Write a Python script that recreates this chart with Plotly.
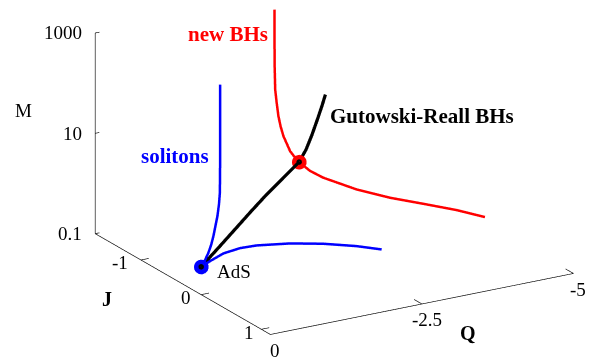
import numpy as np
import plotly.graph_objects as go

# ── Data ─────────────────────────────────────────────────────────────────────

# AdS point
ads_Q = [0.0]
ads_J = [0.0]
ads_M = [0.36]

# Gutowski-Reall black holes, from AdS upwards
gr_Q = [0.0, -0.304, -0.607, -0.927, -1.249, -1.581, -1.914,
        -2.059, -2.188, -2.326, -2.422, -2.497]
gr_J = [0.0, -0.04, -0.08, -0.12, -0.17, -0.23, -0.30,
        -0.33, -0.36, -0.40, -0.43, -0.45]
gr_M = [0.36, 0.637, 1.14, 2.14, 3.76, 6.06, 9.37,
        14.6, 25.8, 48.8, 76.4, 117.5]

# point where the new black holes meet the Gutowski-Reall branch
merge_Q = [-1.914]
merge_J = [-0.30]
merge_M = [9.37]

# new black holes, from the top down through the merger point
nbh_Q = [-2.699, -2.501, -2.305, -2.115, -2.040, -1.970, -1.927, -1.904,
         -1.885, -1.899, -1.914,
         -2.046, -2.215, -2.666, -3.116, -3.565, -4.017, -4.384]
nbh_J = [-1.50, -1.30, -1.10, -0.90, -0.80, -0.70, -0.62, -0.55,
         -0.42, -0.36, -0.30,
         -0.25, -0.20, -0.10, 0.00, 0.10, 0.20, 0.30]
nbh_M = [976.0, 415.0, 171.0, 89.5, 60.4, 39.3, 28.5, 20.7,
         12.9, 10.8, 9.37,
         6.23, 4.50, 2.39, 1.49, 1.03, 0.702, 0.486]

# solitons: upper branch down to AdS, then the lower branch out of it
sol_Q = [-0.611, -0.562, -0.512, -0.458, -0.418, -0.368, -0.272, -0.215,
         -0.150, -0.081, 0.0,
         -0.128, -0.308, -0.514, -0.719, -1.119, -1.519, -1.921, -2.233]
sol_J = [-0.30, -0.25, -0.20, -0.15, -0.125, -0.10, -0.07, -0.05,
         -0.03, -0.015, 0.0,
         0.02, 0.06, 0.13, 0.20, 0.35, 0.50, 0.65, 0.75]
sol_M = [676.0, 151.0, 26.9, 6.54, 4.07, 2.55, 1.127, 0.803,
         0.601, 0.460, 0.36,
         0.448, 0.614, 0.780, 0.879, 0.978, 0.978, 0.888, 0.751]

# axes
Q_range = [-5.0, 0.0]
J_range = [-1.76, 1.15]
M_range = [0.1, 1000.0]
Q_ticks = [0, -2.5, -5]
J_ticks = [-1, 0, 1]
M_ticks = [0.1, 10, 1000]
M_tick_labels = ["0.1", "10", "1000"]

# ── Figure ───────────────────────────────────────────────────────────────────

lg = np.log10
SERIF = "Liberation Serif, Times New Roman, serif"
q0, q1 = Q_range
j0, j1 = J_range
z0, z1 = lg(M_range[0]), lg(M_range[1])

fig = go.Figure()

# axis lines (gnuplot style: M at the back-left corner, J and Q along the floor)
ax_x = [0, 0, None, 0, 0, q0]
ax_y = [j0, j0, None, j0, j1, j1]
ax_z = [z0, z1, None, z0, z0, z0]
for m in M_ticks:
    ax_x += [None, 0, -0.07]
    ax_y += [None, j0, j0]
    ax_z += [None, lg(m), lg(m)]
for j in J_ticks:
    ax_x += [None, 0, -0.13]
    ax_y += [None, j, j]
    ax_z += [None, z0, z0]
for q in Q_ticks:
    ax_x += [None, q, q]
    ax_y += [None, j1, j1 - 0.13]
    ax_z += [None, z0, z0]
fig.add_trace(go.Scatter3d(x=ax_x, y=ax_y, z=ax_z, mode="lines",
                           line=dict(color="black", width=1.3)))

fig.add_trace(go.Scatter3d(x=sol_Q, y=sol_J, z=lg(sol_M), mode="lines",
                           line=dict(color="#0000ff", width=5)))
fig.add_trace(go.Scatter3d(x=gr_Q, y=gr_J, z=lg(gr_M), mode="lines",
                           line=dict(color="black", width=6.5)))
fig.add_trace(go.Scatter3d(x=nbh_Q, y=nbh_J, z=lg(nbh_M), mode="lines",
                           line=dict(color="#ff0000", width=5)))

# special points: coloured disc with a black dot
for q, j, m, col in [(ads_Q, ads_J, ads_M, "#0000ff"),
                     (merge_Q, merge_J, merge_M, "#ff0000")]:
    fig.add_trace(go.Scatter3d(x=q, y=j, z=lg(m), mode="markers",
                               marker=dict(size=8.5, color=col, opacity=1)))
    fig.add_trace(go.Scatter3d(x=q, y=j, z=lg(m), mode="markers",
                               marker=dict(size=3.2, color="black", opacity=1)))

# texts
tick_font = dict(family=SERIF, size=19, color="black")
label_font = dict(family=SERIF, size=21)
ann = []
for m, t in zip(M_ticks, M_tick_labels):
    ann.append(dict(x=0, y=j0, z=lg(m), text=t, xanchor="right",
                    xshift=-11, font=tick_font))
for j in J_ticks:
    ann.append(dict(x=0, y=j, z=z0, text=str(j), xanchor="right",
                    xshift=-8 + 3 * j, yshift=-3, font=tick_font))
for q in Q_ticks:
    ann.append(dict(x=q, y=j1, z=z0, text=str(q), xanchor="center",
                    xshift=5, yshift=-16, font=tick_font))
ann += [
    dict(x=0, y=j0, z=1, text="M", xshift=-72, yshift=23, font=tick_font),
    dict(x=0, y=-1, z=z0, text="<b>J</b>", xshift=-34, yshift=-39,
         font=dict(family=SERIF, size=20, color="black")),
    dict(x=-2.5, y=j1, z=z0, text="<b>Q</b>", xshift=46, yshift=-29,
         font=dict(family=SERIF, size=20, color="black")),
    dict(x=ads_Q[0], y=ads_J[0], z=lg(ads_M[0]), text="AdS", xanchor="left",
         xshift=14, yshift=-5, font=tick_font),
    dict(x=sol_Q[2], y=sol_J[2], z=lg(sol_M[2]), text="<b>solitons</b>",
         xanchor="right", xshift=-9, yshift=4,
         font=dict(label_font, color="#0000ff")),
    dict(x=nbh_Q[1], y=nbh_J[1], z=lg(nbh_M[1]), text="<b>new BHs</b>",
         xanchor="right", xshift=-4, yshift=3.5,
         font=dict(label_font, color="#ff0000")),
    dict(x=gr_Q[9], y=gr_J[9], z=lg(gr_M[9]), text="<b>Gutowski-Reall BHs</b>",
         xanchor="left", xshift=10, yshift=2,
         font=dict(label_font, color="black")),
]
for a in ann:
    a["showarrow"] = False

# orthographic view matching the gnuplot picture; the (hidden) scene box is
# padded on the +Q / +J side so that its centre sits where the plot needs it.
# In orthographic mode the zoom comes from aspectratio, not from the eye distance.
az, el = np.radians(59.4), np.radians(19.9)
view = np.array([np.cos(el) * np.cos(az), np.cos(el) * np.sin(az), np.sin(el)])
eye = 4.0 * view
box_Q = [q0 - 0.001, 2.1524]
box_J = [j0 - 0.001, 2.3432]
box_z = [z0 - 0.001, z1 + 0.001]

hidden = dict(visible=False, showgrid=False, showbackground=False,
              zeroline=False, showspikes=False)
fig.update_layout(
    width=594, height=358,
    margin=dict(l=0, r=0, t=0, b=0),
    paper_bgcolor="white",
    showlegend=False,
    hovermode=False,
    scene=dict(
        domain=dict(x=[0, 1], y=[0, 1]),
        bgcolor="white",
        xaxis=dict(hidden, range=box_Q),
        yaxis=dict(hidden, range=box_J),
        zaxis=dict(hidden, range=box_z),
        aspectmode="manual",
        aspectratio=dict(x=2.8145, y=2.7112, z=1.193),
        camera=dict(
            eye=dict(x=eye[0], y=eye[1], z=eye[2]),
            center=dict(x=0, y=0, z=0),
            up=dict(x=0, y=0, z=1),
            projection=dict(type="orthographic"),
        ),
        annotations=ann,
    ),
)

fig.write_html("out.html")
